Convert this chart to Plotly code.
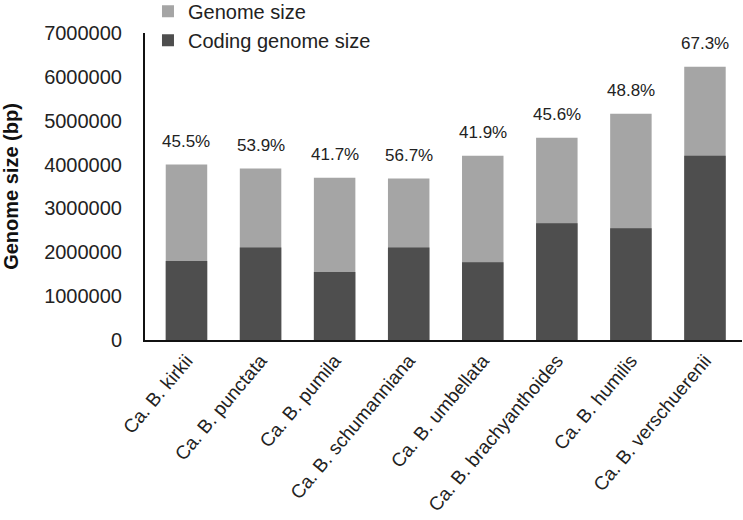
import plotly.graph_objects as go

categories = ["Ca. B. kirkii", "Ca. B. punctata", "Ca. B. pumila", "Ca. B. schumanniana",
              "Ca. B. umbellata", "Ca. B. brachyanthoides", "Ca. B. humilis", "Ca. B. verschuerenii"]
genome_size = [4000000, 3910000, 3700000, 3680000, 4200000, 4610000, 5160000, 6230000]
coding_size = [1800000, 2110000, 1550000, 2110000, 1770000, 2660000, 2550000, 4200000]
pct_labels = ["45.5%", "53.9%", "41.7%", "56.7%", "41.9%", "45.6%", "48.8%", "67.3%"]
y_ticks = [0, 1000000, 2000000, 3000000, 4000000, 5000000, 6000000, 7000000]

FONT = "Liberation Sans, Arial, sans-serif"

fig = go.Figure()
fig.add_trace(go.Bar(x=categories, y=genome_size, name="Genome size",
                     marker=dict(color="#a5a5a5", line=dict(width=0)), width=0.56))
fig.add_trace(go.Bar(x=categories, y=coding_size, name="Coding genome size",
                     marker=dict(color="#4e4e4e", line=dict(width=0)), width=0.56))

for c, g, p in zip(categories, genome_size, pct_labels):
    fig.add_annotation(x=c, y=g, text=p, showarrow=False, yanchor="bottom", yshift=12,
                       font=dict(family=FONT, size=17, color="#222222"))

fig.update_layout(
    width=743, height=520,
    barmode="overlay",
    plot_bgcolor="white", paper_bgcolor="white",
    margin=dict(l=145, r=1, t=33, b=180, autoexpand=False),
    font=dict(family=FONT, size=20, color="#222222"),
    legend=dict(x=0.005, y=1.134, xanchor="left", yanchor="top",
                font=dict(family=FONT, size=20, color="#222222"),
                bgcolor="rgba(0,0,0,0)", tracegroupgap=0),
    showlegend=True,
)
fig.update_yaxes(range=[0, 7000000], tickvals=y_ticks, ticktext=[str(v) for v in y_ticks],
                 showgrid=False, zeroline=False, showline=True, linecolor="#111111", linewidth=2,
                 ticks="", ticklabelstandoff=17, automargin=False,
                 tickfont=dict(family=FONT, size=20, color="#222222"),
                 title=dict(text="<b>Genome size (bp)</b>", font=dict(family=FONT, size=20, color="#111111"),
                            standoff=23))
fig.update_xaxes(range=[-0.56, 7.5], showgrid=False, showline=True, linecolor="#111111", linewidth=2,
                 ticks="", automargin=False,
                 tickangle=-50, tickfont=dict(family=FONT, size=19, color="#222222"))

fig.write_html("out.html", config={"displayModeBar": False},
               post_script="document.body.style.margin='0';")
